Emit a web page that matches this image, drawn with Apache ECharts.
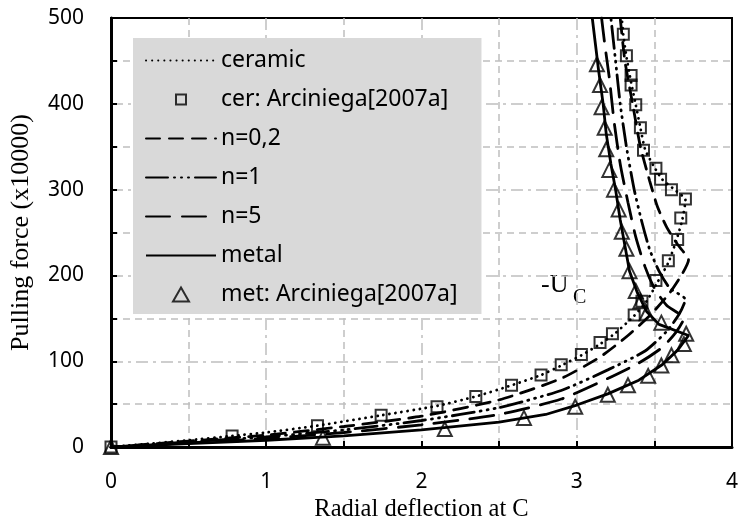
<!DOCTYPE html>
<html>
<head>
<meta charset="utf-8">
<script src="https://cdn.jsdelivr.net/npm/echarts@6/dist/echarts.min.js"></script>
<style>
html,body{margin:0;padding:0;background:#fff;}
#chart{width:741px;height:527px;}
</style>
</head>
<body>
<div id="chart"></div>
<script>
// ---- data (x = radial deflection at C, y = pulling force x10000) ----
const xTicks = [0, 1, 2, 3, 4];
const yTicks = [0, 100, 200, 300, 400, 500];

const seriesNames = ['ceramic', 'cer: Arciniega[2007a]', 'n=0,2', 'n=1', 'n=5', 'metal', 'met: Arciniega[2007a]'];

const ceramicLine = [[0,0],[0.25,4],[0.5,8],[0.78,13],[1,17],[1.33,25],[1.74,37],[2.1,48],[2.35,59],[2.58,72],[2.77,84],[2.9,95],[3.03,107],[3.15,120],[3.25,133],[3.37,153],[3.45,170],[3.52,192],[3.59,215],[3.64,240],[3.68,265],[3.70,288],[3.63,300],[3.55,312],[3.50,326],[3.44,347],[3.41,372],[3.38,399],[3.35,425],[3.32,455],[3.30,480],[3.29,500]];

const ceramicExp = [[0,0],[0.78,13],[1.33,25],[1.74,37],[2.10,47],[2.35,59],[2.58,72],[2.77,84],[2.90,96],[3.03,108],[3.15,122],[3.23,132],[3.37,154],[3.42,170],[3.51,194],[3.59,217],[3.65,242],[3.67,267],[3.70,289],[3.61,300],[3.54,312],[3.51,325],[3.43,346],[3.41,372],[3.38,399],[3.35,422],[3.35,433],[3.32,456],[3.30,481]];

const n02Line = [[0,0],[0.5,7],[1,14],[1.5,24],[2,36],[2.5,55],[2.9,80],[3.15,105],[3.33,130],[3.48,155],[3.6,180],[3.68,202],[3.72,218],[3.65,236],[3.58,256],[3.52,280],[3.47,310],[3.41,350],[3.36,400],[3.31,450],[3.28,500]];

const n1Line = [[0,0],[0.5,6],[1,12],[1.5,20],[2,31],[2.5,46],[2.9,66],[3.2,90],[3.44,112],[3.58,135],[3.66,155],[3.70,172],[3.60,185],[3.53,205],[3.47,230],[3.42,262],[3.37,300],[3.32,350],[3.28,400],[3.25,450],[3.22,500]];

const n5Line = [[0,0],[0.5,5],[1,10],[1.5,17],[2,26],[2.5,38],[2.9,56],[3.2,80],[3.4,98],[3.55,116],[3.64,134],[3.69,150],[3.58,165],[3.5,185],[3.44,210],[3.38,245],[3.33,285],[3.28,330],[3.24,380],[3.21,430],[3.18,470],[3.16,500]];

const metalLine = [[0,0],[0.5,4],[1,8],[1.5,13],[2,20],[2.5,29],[2.8,38],[3.0,49],[3.2,62],[3.4,78],[3.55,96],[3.65,113],[3.72,130],[3.53,143],[3.45,158],[3.39,180],[3.34,205],[3.31,235],[3.28,265],[3.25,300],[3.22,330],[3.19,365],[3.17,400],[3.14,440],[3.12,470],[3.10,500]];

const metalExp = [[0,0],[1.365,11],[2.15,21],[2.66,34],[2.99,47],[3.2,61],[3.33,72],[3.46,83],[3.545,95],[3.61,107],[3.69,120],[3.705,132],[3.545,145],[3.45,156],[3.41,170],[3.38,182],[3.34,205],[3.32,231],[3.29,251],[3.27,277],[3.24,300],[3.21,323],[3.19,347],[3.18,372],[3.16,396],[3.15,422],[3.13,446]];

const annotationMain = '-U';
const annotationSub = 'C';

// ---- chart ----
const chart = echarts.init(document.getElementById('chart'), null, {renderer: 'canvas'});
const gridColor = '#bfbfbf';
const sansFont = 'Noto Sans';
const serifFont = 'Liberation Serif';

function axisCommon(min, max, interval) {
  return {
    type: 'value', min: min, max: max, interval: interval,
    axisLine: {show: true, onZero: false, lineStyle: {color: '#000', width: 3}},
    axisTick: {show: true, inside: true, length: 6, lineStyle: {color: '#000', width: 2}},
    minorTick: {show: true, splitNumber: 2, length: 6, lineStyle: {color: '#000', width: 2}},
    splitLine: {show: true, showMinLine: false, showMaxLine: false, lineStyle: {color: gridColor, width: 1.5, type: [12, 5, 3, 5]}},
    minorSplitLine: {show: true, lineStyle: {color: gridColor, width: 1.5, type: [7, 5]}},
    axisLabel: {color: '#000', fontSize: 21, fontFamily: sansFont}
  };
}

const xAxis = axisCommon(xTicks[0], xTicks[xTicks.length - 1], xTicks[1] - xTicks[0]);
xAxis.axisLabel.margin = 24;
xAxis.name = 'Radial deflection at C';
xAxis.nameLocation = 'middle';
xAxis.nameGap = 38;
xAxis.nameTextStyle = {fontFamily: serifFont, fontSize: 24.5, color: '#000'};

const yAxis = axisCommon(yTicks[0], yTicks[yTicks.length - 1], yTicks[1] - yTicks[0]);
yAxis.axisLabel.margin = 27;
yAxis.name = 'Pulling force (x10000)';
yAxis.nameLocation = 'middle';
yAxis.nameGap = 77;
yAxis.nameRotate = 90;
yAxis.nameTextStyle = {fontFamily: serifFont, fontSize: 26, color: '#000'};

function lineSeries(name, data, dash, smooth) {
  return {
    name: name, type: 'line', data: data, symbol: 'none', showSymbol: false,
    smooth: smooth, clip: true, z: 3,
    lineStyle: {color: '#000', width: 2.8, type: dash, cap: dash === 'solid' ? 'butt' : 'round'},
    itemStyle: {color: '#000'}
  };
}

function markerSeries(name, data, symbol, size) {
  return {
    name: name, type: 'scatter', data: data, symbol: symbol, symbolSize: size, z: 4,
    itemStyle: {color: 'rgba(255,255,255,0)', borderColor: '#000', borderWidth: 2}
  };
}

// legend icons: line items show only their line; marker items show a small centred symbol
const hideSymbol = {opacity: 0};
const squareIcon = 'path://M0,0M70,14M30,2L40,2L40,12L30,12Z';
const triangleIcon = 'path://M0,0M70,14M35,0L43,14L27,14Z';

const option = {
  animation: false,
  backgroundColor: '#fff',
  grid: {left: 110, right: 7, top: 18, bottom: 65, show: true, borderColor: '#000', borderWidth: 2, backgroundColor: 'transparent'},
  xAxis: xAxis,
  yAxis: yAxis,
  legend: {
    orient: 'vertical', left: 133, top: 38,
    itemWidth: 70, itemHeight: 14, itemGap: 16,
    padding: [11, 24, 8, 12],
    backgroundColor: '#d9d9d9',
    textStyle: {fontSize: 23, fontFamily: sansFont, color: '#000', lineHeight: 22},
    data: [
      {name: seriesNames[0], itemStyle: hideSymbol},
      {name: seriesNames[1], icon: squareIcon},
      {name: seriesNames[2], itemStyle: hideSymbol},
      {name: seriesNames[3], itemStyle: hideSymbol},
      {name: seriesNames[4], itemStyle: hideSymbol},
      {name: seriesNames[5], itemStyle: hideSymbol},
      {name: seriesNames[6], icon: triangleIcon}
    ]
  },
  series: [
    lineSeries(seriesNames[0], ceramicLine, [0.1, 6], 0.2),
    markerSeries(seriesNames[1], ceramicExp, 'rect', 11),
    lineSeries(seriesNames[2], n02Line, [14, 9], 0.2),
    lineSeries(seriesNames[3], n1Line, [22, 6, 1, 6, 1, 6, 1, 6], 0.2),
    lineSeries(seriesNames[4], n5Line, [24, 12], 0.2),
    lineSeries(seriesNames[5], metalLine, 'solid', false),
    markerSeries(seriesNames[6], metalExp, 'triangle', 14)
  ],
  graphic: [
    {type: 'text', left: 541, top: 272, style: {text: annotationMain, font: '26px "Liberation Serif"', fill: '#000'}},
    {type: 'text', left: 573, top: 288, style: {text: annotationSub, font: '20px "Liberation Serif"', fill: '#000'}}
  ]
};
chart.setOption(option);
</script>
</body>
</html>
